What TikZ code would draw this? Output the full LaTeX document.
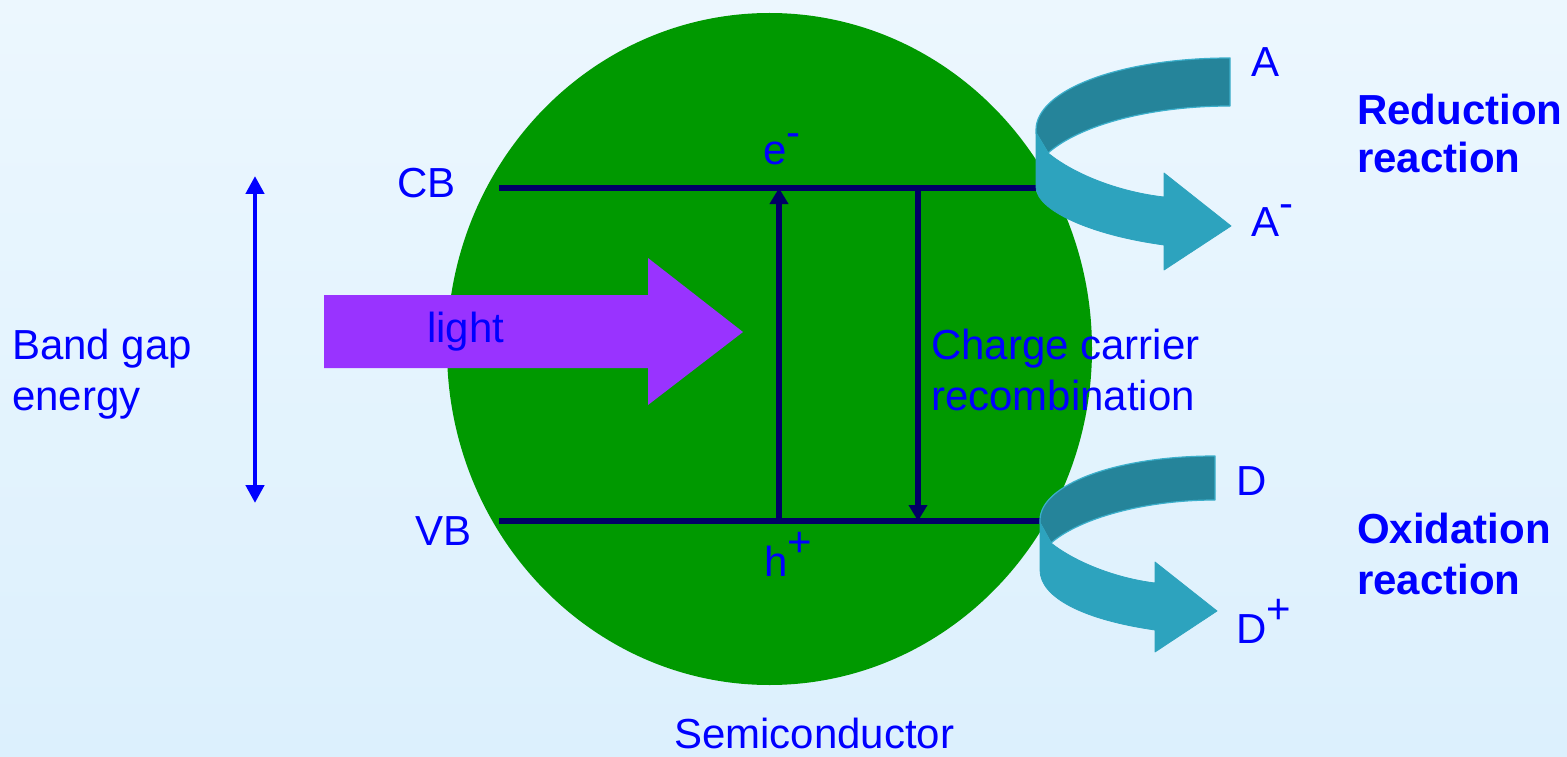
\documentclass[tikz,border=0pt]{standalone}
\usepackage{fontspec}
\setmainfont{Liberation Sans}
\usetikzlibrary{arrows.meta,shapes.geometric}
\definecolor{bgtop}{RGB}{236,247,254}
\definecolor{bgmid}{RGB}{192,231,253}
\definecolor{bgbot}{RGB}{220,240,253}
\definecolor{semi}{RGB}{0,153,0}
\definecolor{navy}{RGB}{0,0,102}
\definecolor{txtblue}{RGB}{0,0,255}
\definecolor{lightarrow}{RGB}{153,51,255}
\definecolor{ribbondark}{RGB}{37,132,154}
\definecolor{ribbonlight}{RGB}{45,163,190}
\definecolor{ribbonedge}{RGB}{60,175,203}
\begin{document}
\begin{tikzpicture}[x=1pt,y=-1pt,
  lbl/.style={anchor=base west,inner sep=0pt,text=txtblue,font=\fontsize{42}{50}\selectfont},
  blbl/.style={lbl,font=\fontsize{42}{50}\selectfont\bfseries},
  band/.style={navy,line width=5.5pt},
  bandarrow/.style={navy,line width=5.5pt,-{Triangle[length=16pt,width=18pt]}},
  gaparrow/.style={txtblue,line width=4.5pt,{Triangle[length=18pt,width=18pt]}-{Triangle[length=18pt,width=18pt]}},
  backribbon/.style={fill=ribbondark,draw=ribbonedge,line width=1.2pt,line join=round},
  frontribbon/.style={fill=ribbonlight,draw=ribbonlight,line width=0.8pt,line join=round}]
\useasboundingbox (0,0) rectangle (1567,757);
\shade[top color=bgtop,middle color=bgmid,bottom color=bgbot] (0,0) rectangle (1567,757);

% semiconductor particle
\node[ellipse,fill=semi,inner sep=0pt,minimum width=645pt,minimum height=672pt] (sc) at (769.5,349) {};

% bands
\coordinate (cbL) at (499,188);
\coordinate (cbR) at (1042,188);
\coordinate (vbL) at (499,521);
\coordinate (vbR) at (1044,521);
\draw[band] (cbL) -- (cbR);
\draw[band] (vbL) -- (vbR);

% excitation and recombination
\coordinate (exS) at (779,519);
\coordinate (exE) at (779,188);
\coordinate (reS) at (918,190);
\coordinate (reE) at (918,521);
\draw[bandarrow] (exS) -- (exE);
\draw[bandarrow] (reS) -- (reE);

% light arrow
\fill[lightarrow] (324,295) -- (648,295) -- (648,258) -- (743,332) -- (648,405) -- (648,368) -- (324,368) -- cycle;
\node[lbl] (light) at (427,342) {light};

% band gap arrow
\coordinate (gapT) at (255,176);
\coordinate (gapB) at (255,503);
\draw[gaparrow] (gapB) -- (gapT);

% reduction ribbon arrow
\path[backribbon] (1230,58) .. controls (1120,58) and (1036,90) .. (1036,130) -- (1036,133) -- (1048,153) .. controls (1080,125) and (1150,106) .. (1230,106) -- cycle;
\path[frontribbon] (1036,133) -- (1048,153) .. controls (1075,175) and (1120,192) .. (1164,197) -- (1164,173) -- (1231,226) -- (1164,270) -- (1164,245) .. controls (1090,235) and (1036,210) .. (1036,187) -- cycle;

% oxidation ribbon arrow
\path[backribbon] (1215,456) .. controls (1115,456) and (1040,485) .. (1040,520) -- (1040,523) -- (1051,543) .. controls (1080,518) and (1145,500) .. (1215,500) -- cycle;
\path[frontribbon] (1040,523) -- (1051,543) .. controls (1075,562) and (1115,578) .. (1155,583) -- (1155,562) -- (1217,611) -- (1155,652) -- (1155,630) .. controls (1085,620) and (1040,598) .. (1040,570) -- cycle;

% labels
\node[lbl] (bg1) at (12,359) {Band gap};
\node[lbl] (bg2) at (12,410) {energy};
\node[lbl] (cb) at (397,197) {CB};
\node[lbl] (vb) at (415,545) {VB};
\node[lbl] (el) at (763,165) {e\raisebox{19pt}{-}};
\node[lbl] (ho) at (764,576) {h\raisebox{20pt}{+}};
\node[lbl] (cc1) at (931,359) {Charge carrier};
\node[lbl] (cc2) at (931,410) {recombination};
\node[lbl] (sclbl) at (674,748) {Semiconductor};
\node[lbl] (a) at (1251,77) {A};
\node[lbl] (am) at (1251,236) {A\raisebox{19pt}{-}};
\node[lbl] (d) at (1236,495) {D};
\node[lbl] (dp) at (1236,643) {D\raisebox{20pt}{+}};
\node[blbl] (red1) at (1357,125) {Reduction};
\node[blbl] (red2) at (1357,173) {reaction};
\node[blbl] (ox1) at (1357,543) {Oxidation};
\node[blbl] (ox2) at (1357,594) {reaction};
\end{tikzpicture}
\end{document}
